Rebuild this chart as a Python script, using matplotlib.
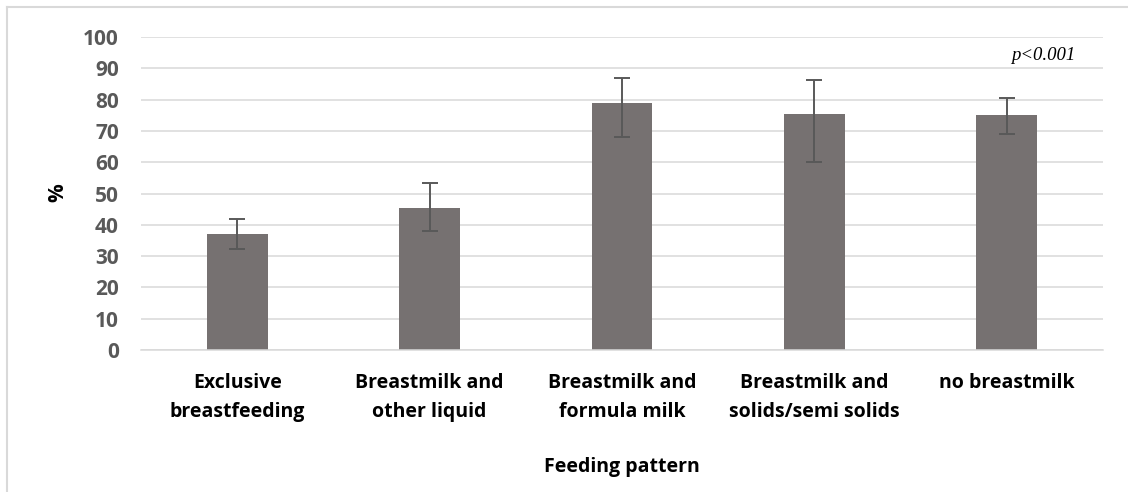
import matplotlib
matplotlib.use("Agg")
import matplotlib.pyplot as plt
from matplotlib.lines import Line2D
import numpy as np

categories = ["Exclusive\nbreastfeeding", "Breastmilk and\nother liquid",
              "Breastmilk and\nformula milk", "Breastmilk and\nsolids/semi solids",
              "no breastmilk"]
values = [37.0, 45.3, 78.8, 75.4, 75.1]
ci_lower = [32.3, 37.9, 67.9, 60.1, 69.0]
ci_upper = [42.0, 53.2, 86.8, 86.4, 80.4]
yticks = [0, 10, 20, 30, 40, 50, 60, 70, 80, 90, 100]
xlabel = "Feeding pattern"
ylabel = "%"
pnote = "p<0.001"

W, H = 1128, 492
fig = plt.figure(figsize=(W / 100, H / 100), dpi=100)
ax = fig.add_axes([141 / W, 1 - 350 / H, (1103 - 141) / W, (350 - 37) / H])

x = np.arange(len(categories))
vals = np.array(values)
yerr = np.vstack([vals - np.array(ci_lower), np.array(ci_upper) - vals])

ax.bar(x, vals, width=0.317, color="#767171", zorder=2)
ax.errorbar(x, vals, yerr=yerr, fmt="none", ecolor="#595959", elinewidth=1.4,
            capsize=6, capthick=1.4, zorder=3)

ax.set_xlim(-0.5, len(categories) - 0.5)
ax.set_ylim(0, 100)
ax.set_yticks(yticks)
ax.yaxis.grid(True, color="#d9d9d9", linewidth=1.1, zorder=0)
ax.set_axisbelow(True)
for s in ["top", "right", "left"]:
    ax.spines[s].set_visible(False)
ax.spines["bottom"].set_color("#d9d9d9")
ax.spines["bottom"].set_linewidth(1.1)
ax.tick_params(axis="both", length=0)
ax.tick_params(axis="y", pad=16)
ax.tick_params(axis="x", pad=16.5)

FONT = "Open Sans"
ax.set_yticklabels([str(t) for t in yticks], fontdict=dict(family=FONT, weight="bold",
                   size=15, color="#595959"))
ax.set_xticks(x)
ax.set_xticklabels(categories, fontdict=dict(family=FONT, weight="bold", size=14,
                   color="black", linespacing=1.6))

fig.text(622 / W, 1 - 467 / H, xlabel, ha="center", va="center", family=FONT,
         weight="bold", size=14, color="black")
fig.text(58 / W, 1 - 193 / H, ylabel, ha="center", va="center", rotation=90,
         family=FONT, weight="bold", size=15, color="black")
ax.text(4.19, 94.2, pnote, ha="center", va="center", family="Liberation Serif",
        style="italic", size=13.5, color="black")

# outer chart frame (top and left edges visible)
fig.add_artist(Line2D([7 / W, 7 / W], [0, 1 - 7 / H], transform=fig.transFigure,
                      color="#d9d9d9", linewidth=1.5))
fig.add_artist(Line2D([7 / W, 1], [1 - 7 / H, 1 - 7 / H], transform=fig.transFigure,
                      color="#d9d9d9", linewidth=1.5))

fig.savefig("out.png", dpi=100, facecolor="white")
